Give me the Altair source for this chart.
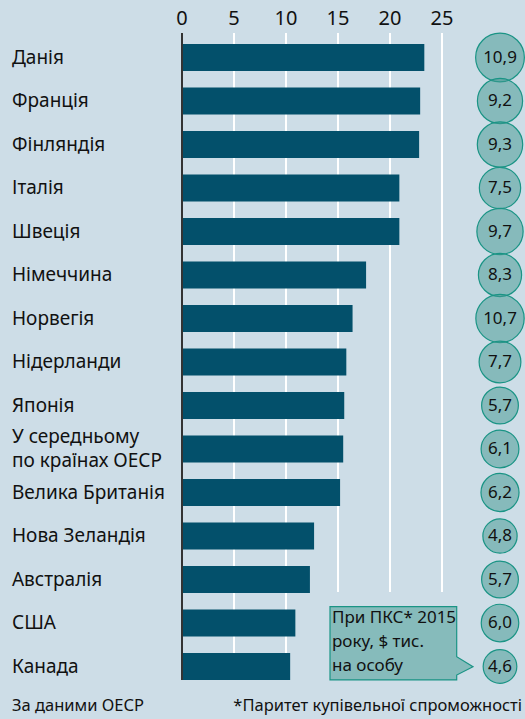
import altair as alt
import pandas as pd

# ---- data ----
countries = ["Данія", "Франція", "Фінляндія", "Італія", "Швеція", "Німеччина",
             "Норвегія", "Нідерланди", "Японія", "У середньому\nпо країнах ОЕСР",
             "Велика Британія", "Нова Зеландія", "Австралія", "США", "Канада"]
values = [23.3, 22.9, 22.8, 20.9, 20.9, 17.7, 16.4, 15.8, 15.6, 15.5, 15.2, 12.7, 12.3, 10.9, 10.4]
ppp = [10.9, 9.2, 9.3, 7.5, 9.7, 8.3, 10.7, 7.7, 5.7, 6.1, 6.2, 4.8, 5.7, 6.0, 4.6]
tick_values = [0, 5, 10, 15, 20, 25]
grid_long = [5, 10]
grid_short = [15, 20, 25]
note_lines = ["При ПКС* 2015", "року, $ тис.", "на особу"]
source_text = "За даними ОЕСР"
footnote_text = "*Паритет купівельної спроможності"

df = pd.DataFrame({"country": countries, "value": values, "ppp": ppp,
                   "i": list(range(len(countries)))})
df["ppp_label"] = [f"{v:.1f}".replace(".", ",") for v in ppp]
df["multi"] = [("\n" in c) for c in countries]

# ---- styling ----
FONT = "Noto Sans"
W, H = 525, 719
X0, PX = 182, 10.4
BG = "#cddde7"
BAR = "#03506b"
TEAL = "#1a9485"
CIRC_FILL = "#3f988f"
BOX_FILL = "#86bbbb"
TXT = "#111111"
LH = 24

xscale = alt.Scale(domain=[-X0 / PX, (W - X0) / PX], range=[0, W], nice=False, zero=False, padding=0)
yscale = alt.Scale(domain=[0, 14], range=[57.5, 666.5], nice=False, zero=False, padding=0)

one = pd.DataFrame({"k": [0]})

grid1 = alt.Chart(pd.DataFrame({"t": grid_long})).mark_rule(color="white", strokeWidth=2).encode(
    x=alt.X("t:Q", scale=xscale, axis=None), y=alt.value(33), y2=alt.value(680))
grid2 = alt.Chart(pd.DataFrame({"t": grid_short})).mark_rule(color="white", strokeWidth=2).encode(
    x=alt.X("t:Q", scale=xscale, axis=None), y=alt.value(33), y2=alt.value(592))
ticks = alt.Chart(pd.DataFrame({"t": tick_values})).mark_text(
    font=FONT, fontSize=20, align="center", baseline="middle", color=TXT).encode(
    x=alt.X("t:Q", scale=xscale, axis=None), y=alt.value(19), text="t:Q")

bars = alt.Chart(df).mark_bar(orient="horizontal", height=27, color=BAR).encode(
    x=alt.X("value:Q", scale=xscale, axis=None), x2=alt.datum(0),
    y=alt.Y("i:Q", scale=yscale, axis=None))

zero = alt.Chart(pd.DataFrame({"t": [0]})).mark_rule(color="#333333", strokeWidth=2).encode(
    x=alt.X("t:Q", scale=xscale, axis=None), y=alt.value(33), y2=alt.value(680))

label_style = dict(font=FONT, fontSize=19, align="left", baseline="middle", color=TXT)
labels_single = alt.Chart(df).transform_filter("!datum.multi").mark_text(**label_style).encode(
    x=alt.value(12), y=alt.Y("i:Q", scale=yscale, axis=None), text="country:N")
labels_l1 = alt.Chart(df).transform_filter("datum.multi").transform_calculate(
    line="split(datum.country, '\\n')[0]").mark_text(dy=-LH / 2, **label_style).encode(
    x=alt.value(12), y=alt.Y("i:Q", scale=yscale, axis=None), text="line:N")
labels_l2 = alt.Chart(df).transform_filter("datum.multi").transform_calculate(
    line="split(datum.country, '\\n')[1]").mark_text(dy=LH / 2, **label_style).encode(
    x=alt.value(12), y=alt.Y("i:Q", scale=yscale, axis=None), text="line:N")

circles = alt.Chart(df).mark_circle(fill=CIRC_FILL, fillOpacity=0.5, stroke=TEAL,
                                    strokeWidth=1.2, opacity=1, strokeOpacity=1).encode(
    x=alt.value(500), y=alt.Y("i:Q", scale=yscale, axis=None),
    size=alt.Size("ppp:Q", scale=alt.Scale(domain=[4.6, 10.9], range=[1134, 2376], zero=False),
                  legend=None))
circle_txt = alt.Chart(df).mark_text(font=FONT, fontSize=17, align="center", baseline="middle",
                                     color=TXT).encode(
    x=alt.value(500), y=alt.Y("i:Q", scale=yscale, axis=None), text="ppp_label:N")

callout_path = ("M-1,-0.508 L0.772,-0.508 L0.772,0.192 L1,0.331 L0.772,0.448 "
                "L0.772,0.517 L-1,0.517 Z")
callout = alt.Chart(one).mark_point(shape=callout_path, size=143 ** 2, filled=True,
                                    fill=BOX_FILL, stroke=TEAL, strokeWidth=1.2,
                                    opacity=1).encode(
    x=alt.value(401.5), y=alt.value(643))
note_layers = [
    alt.Chart(pd.DataFrame({"s": [s]})).mark_text(
        font=FONT, fontSize=17, align="left", baseline="middle", color=TXT).encode(
        x=alt.value(332), y=alt.value(618 + 24 * k), text="s:N")
    for k, s in enumerate(note_lines)
]

src = alt.Chart(pd.DataFrame({"s": [source_text]})).mark_text(
    font=FONT, fontSize=16.5, align="left", baseline="middle", color=TXT).encode(
    x=alt.value(12), y=alt.value(706), text="s:N")
foot = alt.Chart(pd.DataFrame({"s": [footnote_text]})).mark_text(
    font=FONT, fontSize=16.5, align="right", baseline="middle", color=TXT).encode(
    x=alt.value(522), y=alt.value(706), text="s:N")

chart = alt.layer(grid1, grid2, ticks, bars, zero, labels_single, labels_l1, labels_l2,
                  circles, circle_txt, callout, *note_layers, src, foot).properties(
    width=W, height=H, autosize="none", padding=0, background=BG
).configure_view(stroke=None)

chart.save("out.html", embed_options={"renderer": "svg", "actions": False})
